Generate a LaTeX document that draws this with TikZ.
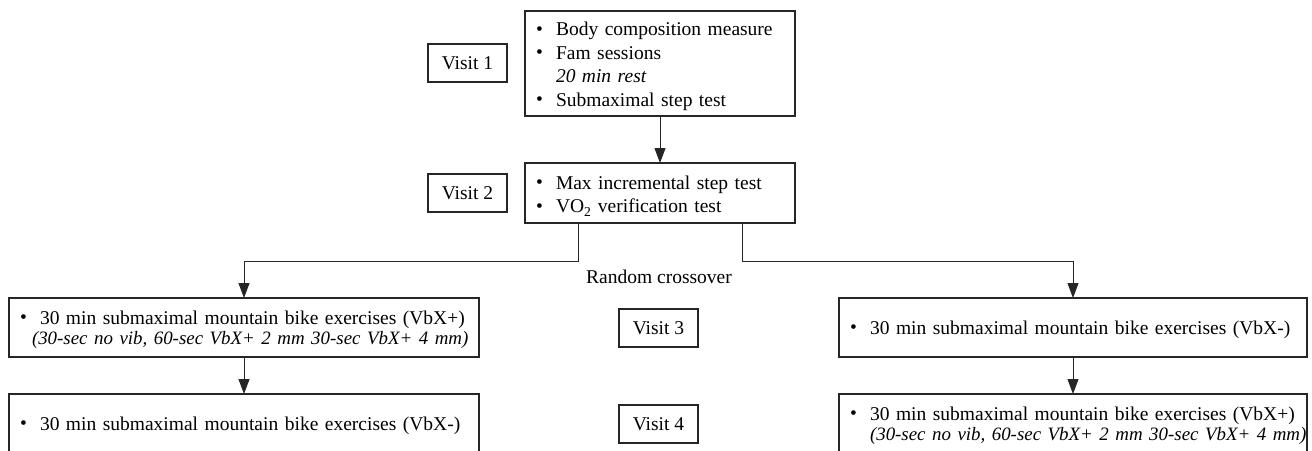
\documentclass[tikz,border=0pt]{standalone}
\usepackage{fontspec}
\setmainfont{Liberation Serif}
\usetikzlibrary{arrows.meta,calc}
\newcommand{\bul}{\makebox[20pt][l]{\raisebox{0.5pt}{\textbullet}}}
\newcommand{\oneline}[1]{\mbox{#1}}
\newcommand{\itline}[1]{\mbox{\fontsize{18.9}{19.5}\selectfont\itshape #1}}
\newcommand{\lift}[1]{\rule{0pt}{#1}}
\begin{document}
\begin{tikzpicture}[x=1pt,y=-1pt,
  font=\fontsize{19.5}{23.5}\selectfont,
  every node/.style={outer sep=0pt},
  visitbox/.style={draw=black!85, line width=1.2pt, minimum width=79pt, minimum height=38pt, inner sep=0pt},
  listbox/.style={draw=black!85, line width=1.2pt, inner xsep=11pt, inner ysep=0pt, align=left},
  tight/.style={font=\fontsize{19.5}{20}\selectfont},
  arr/.style={draw=black!85, line width=0.9pt, -{Triangle[length=15pt,width=11pt]}}]
\useasboundingbox (0,0) rectangle (1312,450);
\fill[white] (0,0) rectangle (1312,450);
\clip (0,0) rectangle (1312,450);

% top boxes
\node[listbox, text width=248pt, minimum height=105pt] (b1) at (660,63.5)
  {\oneline{\lift{19.5pt}\bul Body composition measure}\\
   \oneline{\bul Fam sessions}\\
   \oneline{\hspace*{20pt}\textit{20 min rest}}\\
   \oneline{\bul Submaximal step test}};
\node[listbox, text width=248pt, minimum height=60pt] (b2) at (660,193)
  {\oneline{\lift{19.5pt}\bul Max incremental step test}\\
   \oneline{\bul VO\textsubscript{2} verification test}};

\node[visitbox] (v1) at (467.5,63) {Visit 1};
\node[visitbox] (v2) at (467.5,193) {Visit 2};

\node (rc) at (659,277) {Random crossover};

% left column
\node[listbox, tight, text width=448pt, minimum height=59pt] (l1) at (244,327.5)
  {\oneline{\lift{17.5pt}\bul 30 min submaximal mountain bike exercises (VbX+)}\\
   \itline{\hspace*{12pt}(30-sec no vib, 60-sec VbX+ 2 mm 30-sec VbX+ 4 mm)}};
\node[listbox, tight, text width=448pt, minimum height=59pt] (l2) at (244,423.5)
  {\oneline{\lift{17.5pt}\bul 30 min submaximal mountain bike exercises (VbX-)}};

% right column
\node[listbox, tight, text width=446pt, minimum height=59pt] (r1) at (1073,327.5)
  {\oneline{\lift{17.5pt}\bul 30 min submaximal mountain bike exercises (VbX-)}};
\node[listbox, tight, text width=446pt, minimum height=59pt] (r2) at (1073,423.5)
  {\oneline{\lift{17.5pt}\bul 30 min submaximal mountain bike exercises (VbX+)}\\
   \itline{\hspace*{20pt}(30-sec no vib, 60-sec VbX+ 2 mm 30-sec VbX+ 4 mm)}};

\node[visitbox] (v3) at (658.5,328) {Visit 3};
\node[visitbox] (v4) at (658.5,424) {Visit 4};

% connectors
\draw[arr] (b1.south) -- (b2.north);
\draw[arr] ([xshift=53pt]b2.south west) -- ++(0,38) -| (l1.north);
\draw[arr] ([xshift=-53pt]b2.south east) -- ++(0,38) -| (r1.north);
\draw[arr] (l1.south) -- (l2.north);
\draw[arr] (r1.south) -- (r2.north);
\end{tikzpicture}
\end{document}
